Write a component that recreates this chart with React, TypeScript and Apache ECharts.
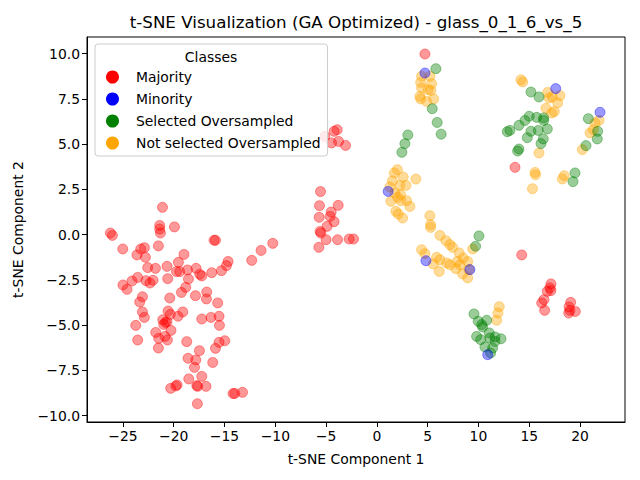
import * as echarts from "echarts";
import { useEffect, useRef } from "react";

const FONT = "DejaVu Sans";

const classNames = ["Majority", "Minority", "Selected Oversampled", "Not selected Oversampled"];
const classColors = ["#ff0000", "#0000ff", "#008000", "#ffa500"];

const xTicks = [-25, -20, -15, -10, -5, 0, 5, 10, 15, 20];
const yTicks = [-10, -7.5, -5, -2.5, 0, 2.5, 5, 7.5, 10];

// t-SNE coordinates, one list per class
const majority = [
  [-21.11, 1.51], [-26.24, 0.09], [-26.04, -0.04], [-21.38, 0.51], [-21.38, 0.31],
  [-21.31, 0.09], [-19.93, 0.43], [-16.03, -0.31], [-15.89, -0.31], [-25.02, -0.79],
  [-23.25, -0.79], [-22.89, -0.72], [-21.51, -0.62], [-23.62, -1.12], [-22.79, -1.25],
  [-18.99, -1.09], [-19.54, -1.53], [-20.66, -1.75], [-22.56, -1.82], [-21.8, -1.86],
  [-19.73, -2.04], [-19.41, -2.04], [-18.65, -1.95], [-17.8, -1.86], [-17.44, -2.19],
  [-17.24, -2.28], [-16.26, -2.1], [-15.3, -1.99], [-14.81, -1.71], [-14.65, -1.48],
  [-23.55, -2.36], [-24.11, -2.56], [-22.73, -2.54], [-22.34, -2.67], [-22.04, -2.52],
  [-20.59, -2.43], [-18.55, -2.45], [-25.0, -2.78], [-24.6, -3.02], [-18.82, -2.91],
  [-19.24, -3.19], [-16.75, -3.17], [-17.86, -3.37], [-16.78, -3.55], [-15.67, -3.77],
  [-23.08, -3.43], [-23.35, -3.72], [-20.39, -3.5], [-23.08, -4.27], [-22.89, -4.57],
  [-23.74, -5.01], [-23.55, -5.82], [-20.56, -4.22], [-20.33, -4.4], [-19.58, -4.51],
  [-19.11, -4.27], [-21.08, -4.7], [-20.82, -4.85], [-20.66, -4.81], [-20.99, -4.96],
  [-20.27, -5.29], [-21.77, -5.4], [-21.48, -5.73], [-20.86, -5.62], [-20.62, -5.82],
  [-21.51, -6.26], [-17.24, -4.66], [-16.33, -4.57], [-15.54, -4.51], [-15.5, -5.01],
  [-18.72, -5.91], [-17.47, -6.41], [-15.54, -5.95], [-14.98, -5.86], [-15.89, -6.28],
  [-18.59, -6.83], [-17.83, -6.92], [-17.96, -7.33], [-16.16, -7.06], [-17.24, -7.83],
  [-18.52, -7.97], [-19.67, -8.3], [-19.8, -8.36], [-20.3, -8.49], [-17.73, -8.34],
  [-17.64, -8.38], [-16.82, -8.38], [-14.16, -8.78], [-13.99, -8.77], [-13.23, -8.71],
  [-17.67, -9.34], [-5.55, 2.38], [-5.65, 1.6], [-3.81, 1.62], [-4.5, 1.25],
  [-4.6, 1.01], [-5.68, 0.96], [-4.21, 0.72], [-4.9, 0.46], [-5.59, 0.18],
  [-5.52, 0.09], [-5.0, -0.28], [-3.87, -0.28], [-2.73, -0.24], [-2.3, -0.24],
  [-5.71, -0.7], [-10.25, -0.48], [-11.4, -0.87], [-12.32, -1.42], [-5.12, 5.43],
  [-4.21, 5.71], [-3.91, 5.8], [-4.46, 5.07], [-3.77, 5.15], [-3.08, 4.93],
  [4.73, 9.98], [13.6, 3.72], [14.26, -1.12], [17.14, -2.72], [17.04, -2.94],
  [16.78, -3.13], [17.14, -3.09], [16.45, -3.59], [16.23, -3.77], [16.52, -4.18],
  [19.08, -3.74], [18.92, -3.99], [19.01, -4.18], [18.89, -4.33], [19.54, -4.24],
];

const minority = [
  [4.73, 8.93], [1.11, 2.39], [4.83, -1.44], [9.16, -1.93], [10.91, -6.63],
  [17.61, 8.07], [21.97, 6.76],
];

const selected = [
  [5.81, 9.17], [5.45, 6.96], [5.94, 6.2], [6.33, 5.55], [3.05, 5.51],
  [2.76, 5.03], [2.46, 4.55], [10.05, -0.07], [9.72, -0.64], [9.56, -4.38],
  [9.98, -4.79], [10.32, -4.97], [10.41, -5.1], [10.81, -4.73], [9.82, -5.62],
  [10.22, -5.8], [11.06, -5.43], [11.13, -5.71], [11.63, -5.65], [12.22, -5.75],
  [11.63, -5.9], [10.64, -6.2], [11.4, -6.26], [11.2, -6.54], [15.17, 7.88],
  [15.96, 7.61], [15.0, 6.54], [14.58, 6.31], [13.99, 6.04], [13.1, 5.76],
  [12.84, 5.69], [15.73, 6.48], [16.42, 6.45], [16.42, 6.31], [15.17, 5.71],
  [15.89, 5.76], [16.78, 5.84], [14.81, 5.36], [16.38, 5.29], [16.16, 5.03],
  [13.99, 4.73], [13.86, 4.62], [19.51, 3.41], [19.31, 2.93], [20.82, 6.41],
  [21.74, 5.71], [21.7, 5.29], [20.59, 4.92],
];

const notSelected = [
  [4.4, 8.75], [5.22, 8.75], [4.31, 8.41], [5.39, 8.34], [5.05, 8.01],
  [4.4, 8.1], [5.32, 7.97], [4.24, 7.64], [4.31, 7.5], [4.9, 7.36],
  [5.59, 7.5], [2.02, 3.59], [1.72, 3.41], [2.59, 3.18], [3.84, 3.07],
  [1.53, 2.98], [2.27, 2.72], [2.86, 2.72], [1.28, 2.64], [1.77, 2.3],
  [2.33, 2.21], [2.04, 2.06], [2.93, 1.88], [1.38, 1.84], [2.36, 1.88],
  [3.25, 1.56], [1.87, 1.29], [2.1, 1.14], [2.53, 0.92], [5.22, 1.05],
  [5.29, 0.55], [5.29, 0.4], [6.21, -0.04], [6.8, -0.33], [7.19, -0.55],
  [7.46, -0.7], [4.4, -0.83], [4.73, -1.05], [5.88, -1.25], [6.21, -1.38],
  [5.55, -1.62], [6.87, -1.56], [7.19, -1.66], [8.11, -1.01], [8.5, -1.29],
  [7.91, -1.48], [8.18, -1.66], [7.78, -1.88], [8.94, -1.48], [9.06, -1.93],
  [6.14, -2.03], [8.44, -2.17], [8.94, -2.39], [9.43, -0.79], [12.05, -3.98],
  [11.92, -4.33], [11.79, -4.73], [14.19, 8.56], [14.35, 8.44], [16.82, 7.86],
  [16.95, 7.55], [17.27, 7.61], [18.03, 7.68], [17.8, 7.28], [16.65, 6.98],
  [17.47, 6.8], [17.21, 6.72], [15.96, 4.51], [15.57, 3.44], [15.62, 3.31],
  [15.32, 2.54], [18.45, 3.26], [18.26, 3.08], [21.48, 6.17], [21.87, 6.31],
  [21.31, 5.8], [20.99, 5.62], [20.23, 4.7],
];

const minus = (s: string) => s.replace("-", "\u2212");

const hexToRgba = (hex: string, a: number) => {
  const n = parseInt(hex.slice(1), 16);
  return `rgba(${(n >> 16) & 255},${(n >> 8) & 255},${n & 255},${a})`;
};

const App = () => {
  const chartRef = useRef<HTMLDivElement>(null);

  useEffect(() => {
    document.body.style.margin = "0";
    const chart = echarts.init(chartRef.current, null, { renderer: "svg" });

    const seriesData = [majority, minority, selected, notSelected];
    // draw order: majority, not selected, selected, minority on top
    const drawOrder = [0, 3, 2, 1];

    const axisCommon = {
      axisLine: { show: true, onZero: false, lineStyle: { color: "#000", width: 1 } },
      axisTick: { show: true, inside: false, length: 5, lineStyle: { color: "#000" } },
      splitLine: { show: false },
      nameLocation: "middle" as const,
      nameTextStyle: { fontFamily: FONT, fontSize: 13.9, color: "#000" },
    };

    const option: echarts.EChartsOption = {
      animation: false,
      backgroundColor: "#fff",
      textStyle: { fontFamily: FONT },
      grid: {
        left: 87,
        right: 15,
        top: 37,
        bottom: 58,
        show: true,
        borderColor: "#000",
        borderWidth: 1,
        backgroundColor: "transparent",
      },
      xAxis: {
        type: "value",
        min: -28.54,
        max: 24.43,
        name: "t-SNE Component 1",
        nameGap: 30,
        ...axisCommon,
        axisTick: { ...axisCommon.axisTick, customValues: xTicks },
        axisLabel: {
          customValues: xTicks,
          fontFamily: FONT,
          fontSize: 13.9,
          color: "#000",
          margin: 7,
          formatter: (v: number) => minus(String(v)),
        },
      },
      yAxis: {
        type: "value",
        min: -10.35,
        max: 10.92,
        name: "t-SNE Component 2",
        nameGap: 62,
        ...axisCommon,
        axisTick: { ...axisCommon.axisTick, customValues: yTicks },
        axisLabel: {
          customValues: yTicks,
          fontFamily: FONT,
          fontSize: 13.9,
          color: "#000",
          margin: 7,
          formatter: (v: number) => minus(v.toFixed(1)),
        },
      },
      legend: {
        orient: "vertical",
        left: 95,
        top: 44,
        padding: [26, 7, 6, 11],
        itemWidth: 13,
        itemHeight: 13,
        itemGap: 8,
        borderColor: "#cccccc",
        borderWidth: 1,
        borderRadius: 3,
        backgroundColor: "rgba(255,255,255,0.8)",
        selectedMode: false,
        textStyle: { fontFamily: FONT, fontSize: 13.9, color: "#000", padding: [0, 0, 0, 12] },
        data: classNames.map((name, i) => ({
          name,
          icon: "circle",
          itemStyle: { color: classColors[i], borderWidth: 0, opacity: 1 },
        })),
      },
      graphic: [
        {
          type: "text",
          x: 356,
          y: 22,
          z: 100,
          style: {
            text: "t-SNE Visualization (GA Optimized) - glass_0_1_6_vs_5",
            fontFamily: FONT,
            fontSize: 16.7,
            fill: "#000",
            align: "center",
            verticalAlign: "middle",
          },
        },
        {
          type: "text",
          x: 211,
          y: 57,
          z: 100,
          style: {
            text: "Classes",
            fontFamily: FONT,
            fontSize: 13.9,
            fill: "#000",
            align: "center",
            verticalAlign: "middle",
          },
        },
      ],
      series: drawOrder.map((i) => ({
        name: classNames[i],
        type: "scatter" as const,
        data: seriesData[i],
        symbol: "circle",
        symbolSize: 10,
        z: 2,
        itemStyle: {
          color: hexToRgba(classColors[i], 0.5),
          borderColor: hexToRgba(classColors[i], 0.5),
          borderWidth: 1,
        },
        emphasis: { disabled: true },
      })),
    };

    chart.setOption(option);
    return () => {
      chart.dispose();
    };
  }, []);

  return <div ref={chartRef} style={{ width: "640px", height: "480px" }} />;
};

export default App;
